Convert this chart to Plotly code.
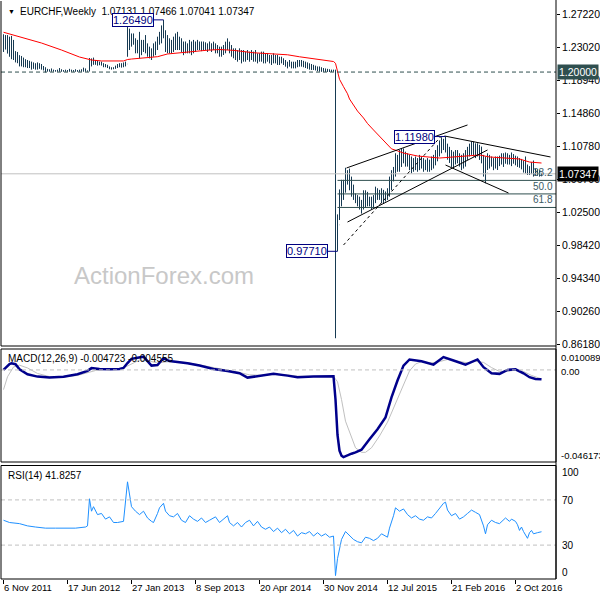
import pandas as pd
import plotly.graph_objects as go

# ---------------- data (weekly bars, week 0 = 6 Nov 2011) ----------------
BASE = pd.Timestamp("2011-11-06")

highs = [
    1.2470, 1.2460, 1.2460, 1.2440, 1.2450, 1.2400, 1.2260, 1.2250, 1.2210, 1.2200,
    1.2180, 1.2160, 1.2150, 1.2140, 1.2130, 1.2120, 1.2110, 1.2120, 1.2110, 1.2100,
    1.2075, 1.2060, 1.2040, 1.2035, 1.2045, 1.2030, 1.2025, 1.2030, 1.2050, 1.2035,
    1.2025, 1.2030, 1.2025, 1.2040, 1.2030, 1.2025, 1.2035, 1.2025, 1.2030, 1.2035,
    1.2055, 1.2045, 1.2020, 1.2175, 1.2170, 1.2180, 1.2150, 1.2140, 1.2130, 1.2130,
    1.2110, 1.2100, 1.2090, 1.2070, 1.2060, 1.2060, 1.2080, 1.2100, 1.2110, 1.2110,
    1.2120, 1.2130, 1.2560, 1.2540, 1.2480, 1.2480, 1.2420, 1.2400, 1.2500, 1.2400,
    1.2400, 1.2460, 1.2357, 1.2316, 1.2295, 1.2357, 1.2380, 1.2440, 1.2500, 1.2580,
    1.2649, 1.2520, 1.2460, 1.2420, 1.2400, 1.2440, 1.2480, 1.2500, 1.2440, 1.2420,
    1.2380, 1.2380, 1.2357, 1.2400, 1.2380, 1.2400, 1.2380, 1.2400, 1.2380, 1.2380,
    1.2380, 1.2370, 1.2357, 1.2380, 1.2357, 1.2378, 1.2357, 1.2336, 1.2316, 1.2316,
    1.2336, 1.2378, 1.2419, 1.2378, 1.2336, 1.2295, 1.2295, 1.2274, 1.2295, 1.2274,
    1.2274, 1.2254, 1.2274, 1.2254, 1.2274, 1.2254, 1.2274, 1.2233, 1.2233, 1.2254,
    1.2254, 1.2233, 1.2233, 1.2212, 1.2212, 1.2233, 1.2212, 1.2212, 1.2191, 1.2191,
    1.2171, 1.2150, 1.2129, 1.2150, 1.2129, 1.2129, 1.2129, 1.2150, 1.2150, 1.2150,
    1.2140, 1.2130, 1.2120, 1.2109, 1.2100, 1.2090, 1.2080, 1.2070, 1.2070, 1.2060,
    1.2050, 1.2045, 1.2040, 1.2035, 1.2030, 1.2030, 1.2030, 1.0230, 1.0540, 1.0660,
    1.0660, 1.0810, 1.0780, 1.0800, 1.0700, 1.0600, 1.0490, 1.0470, 1.0450, 1.0410,
    1.0530, 1.0530, 1.0510, 1.0450, 1.0450, 1.0470, 1.0575, 1.0555, 1.0535, 1.0555,
    1.0535, 1.0515, 1.0555, 1.0700, 1.0780, 1.0820, 1.0990, 1.0970, 1.1030, 1.1050,
    1.1050, 1.1010, 1.0990, 1.0970, 1.0950, 1.0930, 1.0950, 1.0930, 1.0970, 1.0950,
    1.0930, 1.0910, 1.0930, 1.0910, 1.0950, 1.0970, 1.1030, 1.1090, 1.1150, 1.1190,
    1.1170, 1.1198, 1.1110, 1.1070, 1.1030, 1.1010, 1.1030, 1.1030, 1.0990, 1.0970,
    1.0990, 1.1030, 1.1070, 1.1110, 1.1135, 1.1135, 1.1114, 1.1114, 1.1095, 1.1073,
    1.0970, 1.0950, 1.0990, 1.0970, 1.0950, 1.0930, 1.0950, 1.0950, 1.0960, 1.0990,
    1.0990, 1.1000, 1.0990, 1.0970, 1.1000, 1.0980, 1.0960, 1.0950, 1.0930, 1.0920,
    1.0900, 1.0950, 1.0850, 1.0830, 1.0880, 1.0900, 1.0800, 1.0790, 1.0780, 1.07466,
]
lows = [
    1.2250, 1.2280, 1.2230, 1.2190, 1.2160, 1.2150, 1.2120, 1.2110, 1.2070, 1.2070,
    1.2060, 1.2060, 1.2050, 1.2050, 1.2030, 1.2040, 1.2030, 1.2030, 1.2040, 1.2030,
    1.2020, 1.1995, 1.2005, 1.2005, 1.2005, 1.2005, 1.2005, 1.2005, 1.2005, 1.2005,
    1.2005, 1.2005, 1.2005, 1.2005, 1.2005, 1.2005, 1.2005, 1.2005, 1.2005, 1.2005,
    1.2005, 1.2005, 1.2005, 1.2008, 1.2070, 1.2090, 1.2090, 1.2080, 1.2085, 1.2080,
    1.2060, 1.2060, 1.2050, 1.2035, 1.2030, 1.2035, 1.2040, 1.2050, 1.2060, 1.2055,
    1.2060, 1.2070, 1.2190, 1.2274, 1.2316, 1.2340, 1.2233, 1.2233, 1.2170, 1.2210,
    1.2250, 1.2233, 1.2191, 1.2170, 1.2150, 1.2191, 1.2210, 1.2274, 1.2340, 1.2357,
    1.2420, 1.2250, 1.2233, 1.2233, 1.2233, 1.2250, 1.2274, 1.2274, 1.2274, 1.2250,
    1.2210, 1.2233, 1.2233, 1.2233, 1.2210, 1.2233, 1.2250, 1.2274, 1.2274, 1.2260,
    1.2274, 1.2274, 1.2250, 1.2274, 1.2250, 1.2274, 1.2233, 1.2233, 1.2191, 1.2191,
    1.2212, 1.2233, 1.2274, 1.2233, 1.2191, 1.2171, 1.2150, 1.2129, 1.2150, 1.2108,
    1.2129, 1.2129, 1.2150, 1.2129, 1.2150, 1.2129, 1.2129, 1.2108, 1.2129, 1.2129,
    1.2108, 1.2108, 1.2129, 1.2108, 1.2088, 1.2108, 1.2108, 1.2088, 1.2088, 1.2108,
    1.2088, 1.2067, 1.2046, 1.2067, 1.2046, 1.2046, 1.2046, 1.2060, 1.2067, 1.2067,
    1.2060, 1.2050, 1.2040, 1.2030, 1.2026, 1.2026, 1.2020, 1.2010, 1.2005, 1.2003,
    1.2003, 1.2002, 1.2002, 1.2001, 1.2001, 1.2005, 0.8690, 0.9771, 1.0160, 1.0330,
    1.0410, 1.0500, 1.0600, 1.0530, 1.0450, 1.0410, 1.0370, 1.0330, 1.0290, 1.0240,
    1.0290, 1.0310, 1.0330, 1.0330, 1.0290, 1.0310, 1.0370, 1.0410, 1.0410, 1.0370,
    1.0370, 1.0390, 1.0410, 1.0450, 1.0530, 1.0640, 1.0700, 1.0760, 1.0760, 1.0820,
    1.0865, 1.0824, 1.0824, 1.0780, 1.0740, 1.0760, 1.0780, 1.0760, 1.0780, 1.0800,
    1.0760, 1.0780, 1.0760, 1.0760, 1.0780, 1.0800, 1.0840, 1.0890, 1.0950, 1.0990,
    1.1030, 1.1000, 1.0910, 1.0870, 1.0820, 1.0800, 1.0850, 1.0865, 1.0824, 1.0780,
    1.0800, 1.0824, 1.0907, 1.0950, 1.0970, 1.0950, 1.0930, 1.0950, 1.0907, 1.0865,
    1.0700, 1.0617, 1.0782, 1.0800, 1.0824, 1.0780, 1.0800, 1.0782, 1.0830, 1.0850,
    1.0820, 1.0860, 1.0850, 1.0850, 1.0830, 1.0860, 1.0840, 1.0820, 1.0810, 1.0790,
    1.0750, 1.0740, 1.0720, 1.0720, 1.0730, 1.0700, 1.0715, 1.0710, 1.0700, 1.07041,
]
closes = [
    1.2360, 1.2390, 1.2300, 1.2380, 1.2250, 1.2180, 1.2170, 1.2140, 1.2110, 1.2120,
    1.2090, 1.2080, 1.2090, 1.2080, 1.2060, 1.2070, 1.2050, 1.2060, 1.2060, 1.2050,
    1.2040, 1.2020, 1.2020, 1.2015, 1.2020, 1.2015, 1.2012, 1.2012, 1.2012, 1.2012,
    1.2010, 1.2010, 1.2010, 1.2010, 1.2010, 1.2010, 1.2010, 1.2010, 1.2010, 1.2012,
    1.2015, 1.2012, 1.2012, 1.2100, 1.2120, 1.2140, 1.2110, 1.2100, 1.2110, 1.2100,
    1.2080, 1.2070, 1.2060, 1.2045, 1.2045, 1.2050, 1.2070, 1.2080, 1.2090, 1.2080,
    1.2090, 1.2100, 1.2460, 1.2380, 1.2420, 1.2370, 1.2300, 1.2320, 1.2250, 1.2330,
    1.2290, 1.2300, 1.2250, 1.2200, 1.2220, 1.2300, 1.2330, 1.2400, 1.2460, 1.2520,
    1.2480, 1.2350, 1.2300, 1.2320, 1.2300, 1.2400, 1.2420, 1.2350, 1.2330, 1.2300,
    1.2280, 1.2320, 1.2300, 1.2350, 1.2300, 1.2340, 1.2320, 1.2350, 1.2330, 1.2340,
    1.2320, 1.2330, 1.2300, 1.2350, 1.2300, 1.2320, 1.2280, 1.2290, 1.2250, 1.2280,
    1.2300, 1.2350, 1.2330, 1.2280, 1.2230, 1.2210, 1.2190, 1.2180, 1.2220, 1.2150,
    1.2200, 1.2170, 1.2210, 1.2180, 1.2220, 1.2170, 1.2190, 1.2150, 1.2170, 1.2190,
    1.2150, 1.2160, 1.2180, 1.2150, 1.2130, 1.2170, 1.2150, 1.2120, 1.2130, 1.2140,
    1.2120, 1.2090, 1.2080, 1.2100, 1.2070, 1.2080, 1.2090, 1.2110, 1.2100, 1.2090,
    1.2080, 1.2070, 1.2060, 1.2050, 1.2040, 1.2040, 1.2030, 1.2025, 1.2020, 1.2015,
    1.2012, 1.2012, 1.2010, 1.2010, 1.2010, 1.2010, 1.0050, 1.0100, 1.0400, 1.0550,
    1.0600, 1.0700, 1.0680, 1.0580, 1.0520, 1.0450, 1.0420, 1.0400, 1.0380, 1.0320,
    1.0450, 1.0400, 1.0420, 1.0380, 1.0380, 1.0420, 1.0450, 1.0470, 1.0450, 1.0400,
    1.0420, 1.0450, 1.0500, 1.0600, 1.0700, 1.0800, 1.0900, 1.0850, 1.0900, 1.0950,
    1.0920, 1.0900, 1.0880, 1.0850, 1.0800, 1.0850, 1.0880, 1.0820, 1.0870, 1.0840,
    1.0820, 1.0850, 1.0830, 1.0870, 1.0850, 1.0880, 1.0950, 1.1000, 1.1100, 1.1120,
    1.1150, 1.1050, 1.0980, 1.0950, 1.0900, 1.0880, 1.0930, 1.0900, 1.0870, 1.0900,
    1.0920, 1.0950, 1.1000, 1.1030, 1.1080, 1.1050, 1.1020, 1.1060, 1.1000, 1.0950,
    1.0850, 1.0750, 1.0850, 1.0870, 1.0900, 1.0860, 1.0880, 1.0850, 1.0880, 1.0900,
    1.0950, 1.0920, 1.0900, 1.0930, 1.0880, 1.0900, 1.0880, 1.0870, 1.0850, 1.0820,
    1.0780, 1.0800, 1.0760, 1.0750, 1.0800, 1.0750, 1.0740, 1.0730, 1.0715, 1.07347,
]
first_open = 1.2380
last_open = 1.07131

# moving average (red line) read at sample weeks
ma_weeks = [0, 9, 19, 29, 38, 44, 49, 60, 62, 64, 70, 77, 82, 92, 102, 108, 115, 125,
            132, 142, 148, 158, 165, 166, 167, 168, 170, 172, 173, 175, 177, 180, 182,
            185, 188, 192, 194, 197, 200, 207, 212, 218, 225, 232, 238, 243, 248, 258,
            263, 269]
ma_values = [1.2495, 1.2436, 1.2361, 1.2274, 1.2187, 1.2150, 1.2138, 1.2138, 1.2156,
             1.2162, 1.2179, 1.2191, 1.2225, 1.2250, 1.2272, 1.2280, 1.2270, 1.2240,
             1.2232, 1.2215, 1.2190, 1.2160, 1.2131, 1.2109, 1.2004, 1.1910, 1.1818,
             1.1730, 1.1665, 1.1590, 1.1515, 1.1429, 1.1360, 1.1280, 1.1200, 1.1100,
             1.1045, 1.1020, 1.0993, 1.0956, 1.0944, 1.0931, 1.0944, 1.0956, 1.0969,
             1.0944, 1.0937, 1.0919, 1.0881, 1.0869]

# MACD(12,26,9)
macd_weeks = [0, 3, 4, 6, 8, 12, 17, 23, 30, 37, 42, 44, 48, 53, 58, 60, 62, 64, 70, 72,
              74, 77, 80, 83, 92, 98, 105, 112, 118, 122, 128, 135, 142, 147, 155, 161,
              165, 166, 167, 168, 169, 170, 172, 174, 176, 179, 183, 187, 191, 194, 197,
              200, 203, 209, 215, 220, 225, 231, 237, 240, 244, 248, 252, 256, 260, 263,
              266, 269]
macd_values = [0.0000, 0.0030, 0.0034, 0.0029, 0.0003, -0.0022, -0.0034, -0.0039,
               -0.0035, -0.0022, -0.0005, 0.0009, 0.0005, 0.0003, 0.0005, 0.0010, 0.0035,
               0.0056, 0.0067, 0.0045, 0.0022, 0.0025, 0.0059, 0.0045, 0.0034, 0.0022,
               0.0005, -0.0005, -0.0017, -0.0039, -0.0029, -0.0020, -0.0029, -0.0037,
               -0.0033, -0.0033, -0.0032, -0.0150, -0.0330, -0.0410, -0.0435, -0.0442,
               -0.0432, -0.0425, -0.0418, -0.0405, -0.0352, -0.0301, -0.0241, -0.0139,
               -0.0054, 0.0022, 0.0053, 0.0044, 0.0027, 0.0065, 0.0048, 0.0027, 0.0053,
               0.0014, -0.0017, -0.0020, 0.0000, 0.0003, -0.0017, -0.0037, -0.0046,
               -0.004723]
signal_weeks = [0, 2, 5, 8, 12, 17, 23, 30, 37, 42, 46, 51, 56, 59, 63, 68, 73, 77, 81,
                84, 92, 98, 105, 112, 118, 123, 129, 136, 142, 147, 156, 165, 167, 169,
                171, 174, 176, 179, 181, 184, 188, 192, 196, 200, 203, 206, 209, 214,
                218, 222, 227, 232, 236, 240, 244, 248, 252, 256, 260, 264, 269]
signal_values = [-0.0100, -0.0035, 0.0015, 0.0024, 0.0010, -0.0018, -0.0034, -0.0036,
                 -0.0028, -0.0016, -0.0003, 0.0003, 0.0003, 0.0006, 0.0025, 0.0050,
                 0.0045, 0.0035, 0.0040, 0.0043, 0.0037, 0.0026, 0.0010, -0.0002,
                 -0.0013, -0.0025, -0.0027, -0.0023, -0.0025, -0.0032, -0.0034, -0.0033,
                 -0.0060, -0.0150, -0.0260, -0.0340, -0.0395, -0.0418, -0.0418, -0.0395,
                 -0.0335, -0.0265, -0.0170, -0.0070, -0.0005, 0.0030, 0.0042, 0.0036,
                 0.0042, 0.0053, 0.0045, 0.0036, 0.0043, 0.0038, 0.0012, -0.0008,
                 -0.0007, -0.0001, -0.0008, -0.0028, -0.004555]

# RSI(14)
rsi_weeks = [0, 3, 8, 12, 16, 21, 26, 31, 36, 41, 42, 43, 44, 45, 47, 49, 51, 53, 55, 57,
             60, 62, 63, 64, 66, 68, 70, 72, 74, 75, 77, 78, 80, 81, 83, 85, 87, 89, 91,
             93, 95, 97, 99, 101, 103, 106, 108, 110, 112, 113, 115, 117, 119, 121, 123,
             125, 127, 129, 131, 133, 135, 137, 139, 141, 143, 145, 147, 149, 151, 153,
             155, 157, 159, 161, 163, 165, 166, 167, 168, 169, 171, 173, 175, 177, 179,
             181, 183, 185, 187, 189, 191, 192, 193, 194, 195, 196, 198, 200, 202, 204,
             206, 208, 210, 212, 214, 216, 218, 220, 221, 222, 224, 226, 228, 230, 232,
             234, 236, 238, 240, 241, 242, 244, 246, 248, 251, 253, 254, 256, 257, 258,
             259, 260, 262, 263, 264, 265, 267, 269]
rsi_values = [52, 50, 49, 47, 46, 45, 45, 45, 45, 46, 47, 71, 60, 64, 57, 58, 53, 55, 50,
              50, 51, 86, 75, 64, 60, 57, 60, 54, 51, 50, 58, 63, 67, 60, 56, 55, 58, 52,
              50, 56, 53, 51, 54, 50, 52, 55, 50, 53, 56, 50, 47, 50, 46, 50, 52, 47, 51,
              46, 44, 46, 42, 45, 41, 44, 40, 43, 38, 41, 40, 42, 38, 41, 38, 40, 37, 38,
              3, 18, 28, 35, 42, 38, 35, 33, 32, 37, 36, 34, 36, 40, 38, 37, 45, 50, 56,
              63, 60, 62, 57, 54, 56, 53, 52, 55, 54, 58, 63, 67, 68, 61, 56, 58, 53, 55,
              58, 61, 59, 57, 47, 40, 48, 52, 50, 49, 54, 51, 53, 51, 48, 43, 46, 42, 36,
              41, 43, 40, 41, 41.8257]

tick_weeks = [0, 32, 64, 96, 128, 160, 192, 224, 256]
tick_labels = ["6 Nov 2011", "17 Jun 2012", "27 Jan 2013", "8 Sep 2013", "20 Apr 2014",
               "30 Nov 2014", "12 Jul 2015", "21 Feb 2016", "2 Oct 2016"]
price_ticks = [1.2722, 1.2302, 1.1894, 1.1486, 1.1078, 1.0670, 1.0250, 0.9842, 0.9434,
               0.9026, 0.8618]

swing_labels = [(80, 1.2649), (221, 1.1198), (167, 0.9771)]
fib_low, fib_high = 0.9771, 1.1198
fib_ratios = [0.382, 0.500, 0.618]
level_1200 = 1.2000
last_price = 1.07347

# ---------------- helpers ----------------
def wk(i):
    return BASE + pd.Timedelta(days=7 * i)

n = len(closes)
dates = [wk(i) for i in range(n)]
opens = [first_open] + closes[:-1]
opens[-1] = last_open

W, H = 600, 600
ML, MR, MT, MB = 1, 44, 1, 21
PW, PH = W - ML - MR, H - MT - MB

def fx(px):
    return (px - ML) / PW

def fy(py):
    return (H - MB - py) / PH

FONT = "Tahoma, 'Liberation Sans', Arial, sans-serif"
BAR = "#163a52"
NAVY = "#000080"
SLATE = "#2f4f4f"

fig = go.Figure()

fig.add_trace(go.Ohlc(
    x=dates, open=opens, high=highs, low=lows, close=closes,
    increasing=dict(line=dict(color=BAR, width=1)),
    decreasing=dict(line=dict(color=BAR, width=1)),
    tickwidth=0.12, xaxis="x", yaxis="y", hoverinfo="skip"))

fig.add_trace(go.Scatter(x=[wk(i) for i in ma_weeks], y=ma_values, mode="lines",
                         line=dict(color="#ff0000", width=1), xaxis="x", yaxis="y"))

fig.add_trace(go.Scatter(x=[wk(i) for i in signal_weeks], y=signal_values, mode="lines",
                         line=dict(color="#c0c0c0", width=1), xaxis="x", yaxis="y2"))
fig.add_trace(go.Scatter(x=[wk(i) for i in macd_weeks], y=macd_values, mode="lines",
                         line=dict(color="#00008b", width=2.5), xaxis="x", yaxis="y2"))

fig.add_trace(go.Scatter(x=[wk(i) for i in rsi_weeks], y=rsi_values, mode="lines",
                         line=dict(color="#1e90ff", width=1), xaxis="x", yaxis="y3"))

shapes = []
# reference lines
shapes.append(dict(type="line", xref="paper", yref="y", x0=0, x1=1, y0=level_1200,
                   y1=level_1200, line=dict(color=SLATE, width=1, dash="4px,3px")))
shapes.append(dict(type="line", xref="paper", yref="y", x0=0, x1=1, y0=last_price,
                   y1=last_price, line=dict(color="#c0c0c0", width=1)))
shapes.append(dict(type="line", xref="paper", yref="y2", x0=0, x1=1, y0=0, y1=0,
                   line=dict(color="#c0c0c0", width=1, dash="4px,3px")))
for lv in (70, 30):
    shapes.append(dict(type="line", xref="paper", yref="y3", x0=0, x1=1, y0=lv, y1=lv,
                       line=dict(color="#c0c0c0", width=1, dash="4px,3px")))
# fibonacci levels
fib_levels = [fib_high - r * (fib_high - fib_low) for r in fib_ratios]
for lv in fib_levels:
    shapes.append(dict(type="line", xref="x", yref="y", x0=wk(167), x1=wk(276.5),
                       y0=lv, y1=lv, line=dict(color=SLATE, width=1)))
# trend lines
trend = [
    (171.5, 1.0807, 232, 1.1342, "solid"),
    (172, 1.0135, 242, 1.1031, "solid"),
    (170, 0.9849, 218.5, 1.1192, "3px,3px"),
    (220.5, 1.1205, 273.5, 1.0944, "solid"),
    (221, 1.0844, 252.5, 1.0496, "solid"),
]
for a, pa, b, pb, d in trend:
    shapes.append(dict(type="line", xref="x", yref="y", x0=wk(a), x1=wk(b), y0=pa, y1=pb,
                       line=dict(color="black", width=1, dash=d)))
# panel frames
shapes.append(dict(type="line", xref="paper", yref="paper", x0=0, x1=1,
                   y0=fy(346), y1=fy(346), line=dict(color="black", width=1)))
shapes.append(dict(type="line", xref="paper", yref="paper", x0=0, x1=0,
                   y0=fy(346), y1=1, line=dict(color="black", width=1)))
for top, bot in ((349, 462), (465.5, 579)):
    shapes.append(dict(type="rect", xref="paper", yref="paper", x0=0, x1=1,
                       y0=fy(bot), y1=fy(top), line=dict(color="black", width=1)))
shapes.append(dict(type="line", xref="paper", yref="paper", x0=1, x1=1, y0=0, y1=1.01,
                   line=dict(color="black", width=1)))

ann = []
def txt(x, y, s, size=10, color="black", anchor="left", **kw):
    d = dict(x=x, y=y, xref="paper", yref="paper", text=s, showarrow=False,
             xanchor=anchor, yanchor="middle", font=dict(family=FONT, size=size, color=color))
    d.update(kw)
    ann.append(d)

txt(fx(6), fy(11), "\u25bc", size=7)
txt(fx(18), fy(11.5), "EURCHF,Weekly\u00a0\u00a01.07131 1.07466 1.07041 1.07347", size=10)
txt(fx(6), fy(359), "MACD(12,26,9) -0.004723 -0.004555", size=10)
txt(fx(6), fy(475), "RSI(14) 41.8257", size=10)
txt(fx(72), fy(275), "ActionForex.com", size=24, color="#c8c8c8")

# MACD / RSI scale labels
for s, py in (("0.010089", 357), ("0.00", 371.5), ("-0.046173", 455)):
    txt(fx(559), fy(py), s, size=9.5)
for s, py in (("100", 472.7), ("70", 500.5), ("30", 545), ("0", 572.7)):
    txt(fx(560), fy(py), s, size=10)

# swing value boxes
for w, v in swing_labels:
    ann.append(dict(x=wk(w), y=v, xref="x", yref="y", text=f"{v:.5f}", showarrow=True,
                    arrowhead=0, arrowwidth=1, arrowcolor=NAVY, ax=-31, ay=0,
                    standoff=0, bordercolor=NAVY, borderwidth=1, borderpad=0,
                    bgcolor="white", font=dict(family=FONT, size=11, color=NAVY)))
# fib labels
for r, lv in zip(fib_ratios, fib_levels):
    ann.append(dict(x=1, y=lv, xref="paper", yref="y", text=f"{r * 100:.1f}",
                    showarrow=False, xanchor="right", yanchor="bottom", xshift=-1,
                    font=dict(family=FONT, size=10, color="#3c5a64")))
# price boxes on right scale
for v, bg in ((level_1200, SLATE), (last_price, "black")):
    ann.append(dict(x=1, y=v, xref="paper", yref="y", text=f"{v:.5f}", showarrow=False,
                    xanchor="left", yanchor="middle", xshift=1, bgcolor=bg, borderpad=1,
                    font=dict(family=FONT, size=10.5, color="white")))

fig.update_layout(
    width=W, height=H, margin=dict(l=ML, r=MR, t=MT, b=MB),
    paper_bgcolor="white", plot_bgcolor="white", showlegend=False,
    shapes=shapes, annotations=ann,
    xaxis=dict(type="date", range=[wk(-1.25), wk(276.25)], anchor="y3",
               tickvals=[wk(i) for i in tick_weeks], ticktext=tick_labels,
               ticks="outside", ticklen=4, tickcolor="black", tickangle=0,
               ticklabelposition="outside right", showgrid=False, zeroline=False,
               showline=False, rangeslider=dict(visible=False), automargin=False,
               tickfont=dict(family=FONT, size=9.5, color="black")),
    yaxis=dict(domain=[fy(346), 1], range=[0.85933, 1.28837], side="right",
               anchor="x", tickvals=price_ticks, ticktext=[f"{v:.5f}" for v in price_ticks],
               ticks="outside", ticklen=3, tickcolor="black", showgrid=False,
               zeroline=False, showline=False, automargin=False,
               tickfont=dict(family=FONT, size=10.5, color="black")),
    yaxis2=dict(domain=[fy(461), fy(350)], range=[-0.0462, 0.0101], side="right",
                anchor="x", showticklabels=False, ticks="", showgrid=False,
                zeroline=False, showline=False),
    yaxis3=dict(domain=[0, fy(466)], range=[0, 100], side="right", anchor="x",
                showticklabels=False, ticks="", showgrid=False, zeroline=False,
                showline=False),
)

fig.write_html("out.html", config={"displayModeBar": False},
               post_script="document.body.style.margin='0';")
